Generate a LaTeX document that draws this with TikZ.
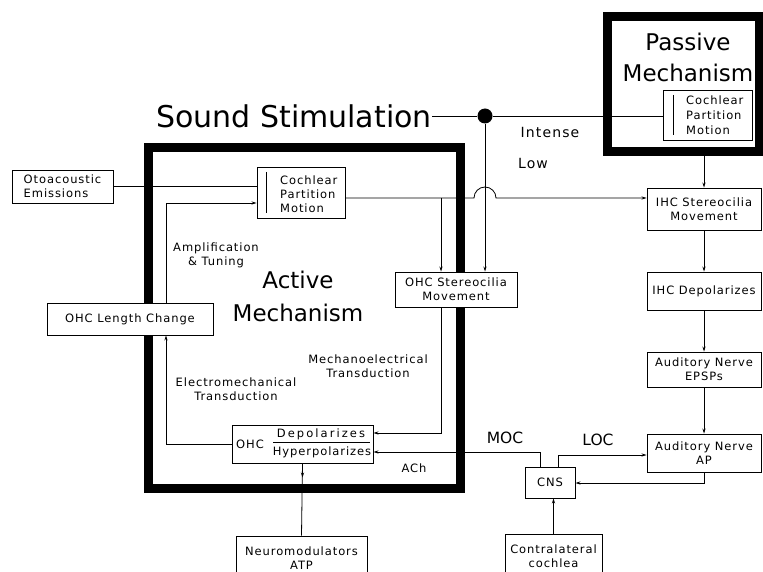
\documentclass[tikz,border=0pt]{standalone}
\usepackage{fontspec}
\setmainfont{DejaVu Sans}
\newfontfamily\lblfont[LetterSpace=8]{DejaVu Sans}
\newfontfamily\widelbl[LetterSpace=18]{DejaVu Sans}
\newfontfamily\bigfont{DejaVu Sans}
\usetikzlibrary{arrows.meta,calc}
\newcommand\smf{\lblfont\fontsize{11.5}{14}\selectfont}
\begin{document}
\begin{tikzpicture}[x=1pt,y=-1pt,
  box/.style={draw, line width=0.9pt, fill=white, inner sep=0pt, font=\smf, align=center},
  frame/.style={draw, line width=9pt, inner sep=0pt},
  conn/.style={line width=0.8pt},
  arr/.style={conn, -{Stealth[length=5pt,width=3.2pt]}},
  txt/.style={inner sep=0pt, font=\smf, align=center},
  mid/.style={inner sep=0pt, font=\lblfont\fontsize{14}{16}\selectfont},
  acro/.style={inner sep=0pt, font=\bigfont\fontsize{15.5}{16}\selectfont},
]
\useasboundingbox (0,0) rectangle (763,572);
\fill[white] (0,0) rectangle (763,572);

% frames
\node[frame, minimum width=312pt, minimum height=340pt] (abox) at (304,318) {};
\node[frame, minimum width=152pt, minimum height=135pt] (pbox) at (683,84.5) {};

% titles
\node[inner sep=0pt, anchor=east, font=\bigfont\fontsize{30}{30}\selectfont] (ss) at (432,116) {Sound Stimulation};
\node[inner sep=0pt, align=center, font=\bigfont\fontsize{23}{33}\selectfont] (atitle) at (298,296) {Active\\Mechanism};
\node[inner sep=0pt, align=center, font=\bigfont\fontsize{23}{31}\selectfont] (ptitle) at (688,57) {Passive\\Mechanism};

% boxes
\node[box, align=left, minimum width=101pt, minimum height=33pt] (oae) at (62.5,186.5) {Otoacoustic\\Emissions};
\node[box, minimum width=88pt, minimum height=51pt] (acpm) at (301,192.5) {};
\node[txt, anchor=west, align=left] (acpmt) at (280,194) {Cochlear\\Partition\\Motion};
\draw[conn] (266,172) -- (266,213);
\node[box, minimum width=89pt, minimum height=50pt] (pcpm) at (707.5,115) {};
\node[txt, anchor=west, align=left, font=\lblfont\fontsize{11.5}{15}\selectfont] (pcpmt) at (686,115) {Cochlear\\Partition\\Motion};
\draw[conn] (673,95) -- (673,135);

\node[box, minimum width=166pt, minimum height=32pt] (olc) at (130,319) {OHC Length Change};
\node[box, minimum width=122pt, minimum height=35pt] (ohcst) at (456,289.5) {OHC Stereocilia\\Movement};
\node[box, minimum width=141pt, minimum height=38pt] (ohc) at (302.5,444) {};
\node[txt] (ohct) at (250,444) {OHC};
\node[txt, font=\widelbl\fontsize{11.5}{14}\selectfont] (dep) at (321,434) {Depolarizes};
\node[txt] (hyp) at (322,452) {Hyperpolarizes};
\draw[conn] (273,442) -- (370,442);
\node[box, minimum width=131pt, minimum height=44pt] (neuro) at (301.5,558) {Neuromodulators\\ATP};
\node[box, minimum width=50pt, minimum height=31pt] (cns) at (550,482.5) {CNS};
\node[box, minimum width=97pt, minimum height=44pt] (contra) at (553.5,556) {Contralateral\\cochlea};

\node[box, minimum width=114pt, minimum height=42pt] (ihcs) at (704,209) {IHC Stereocilia\\Movement};
\node[box, minimum width=114pt, minimum height=38pt] (ihcd) at (704,291) {IHC Depolarizes};
\node[box, minimum width=114pt, minimum height=35pt] (epsp) at (704,369.5) {Auditory Nerve\\EPSPs};
\node[box, minimum width=114pt, minimum height=38pt] (ap) at (704,453) {Auditory Nerve\\AP};

% labels
\node[mid] (intense) at (550,132) {Intense};
\node[mid] (low) at (533,163) {Low};
\node[acro] (moc) at (505,438) {MOC};
\node[acro] (loc) at (598,440) {LOC};
\node[txt] (ach) at (414,468) {ACh};
\node[txt] (amp) at (216,255) {Amplification\\\& Tuning};
\node[txt] (emt) at (236,389) {Electromechanical\\Transduction};
\node[txt] (met) at (368,366) {Mechanoelectrical\\Transduction};

% dot
\node[circle, fill, inner sep=0pt, minimum size=15pt] (dot) at (485,116) {};

% connectors
\draw[conn] (ss.east) -- (dot);
\draw[conn] (dot) -- (dot -| pcpm.west);
\draw[arr] (dot) -- (dot |- ohcst.north);
\coordinate (h1) at (474,198);
\draw[arr] (acpm.east |- h1) -- (h1) arc[start angle=180, end angle=360, radius=11] -- (ihcs.west |- h1);
\coordinate (b1) at (441,198);
\draw[arr] (b1) -- (b1 |- ohcst.north);
\draw[conn] (oae.east) -- (oae.east -| acpm.west);
\coordinate (v1) at (166,203);
\draw[arr] (v1 |- olc.north) -- (v1) -- (v1 -| acpm.west);
\draw[arr] (ohc.west) -- (ohc.west -| v1) -- (v1 |- olc.south);
\coordinate (d1) at (441,433);
\draw[arr] (ohcst.south -| d1) -- (d1) -- (d1 -| ohc.east);
\coordinate (m1) at (540,452);
\draw[arr] (cns.north -| m1) -- (m1) -- (m1 -| ohc.east);
\coordinate (l1) at (558,455);
\draw[arr] (cns.north -| l1) -- (l1) -- (l1 -| ap.west);
\coordinate (c1) at (704,483);
\draw[arr] (ap.south) -- (c1) -- (c1 -| cns.east);
\draw[arr] (contra.north) -- (contra.north |- cns.south);
\draw[conn] (ohc.south) -- (neuro.north);
\draw[arr] (ohc.south) -- ++(0,14);
\draw[arr] (pbox.south -| ihcs.north) -- (ihcs.north);
\draw[arr] (ihcs) -- (ihcd);
\draw[arr] (ihcd) -- (epsp);
\draw[arr] (epsp) -- (ap);
\end{tikzpicture}
\end{document}
